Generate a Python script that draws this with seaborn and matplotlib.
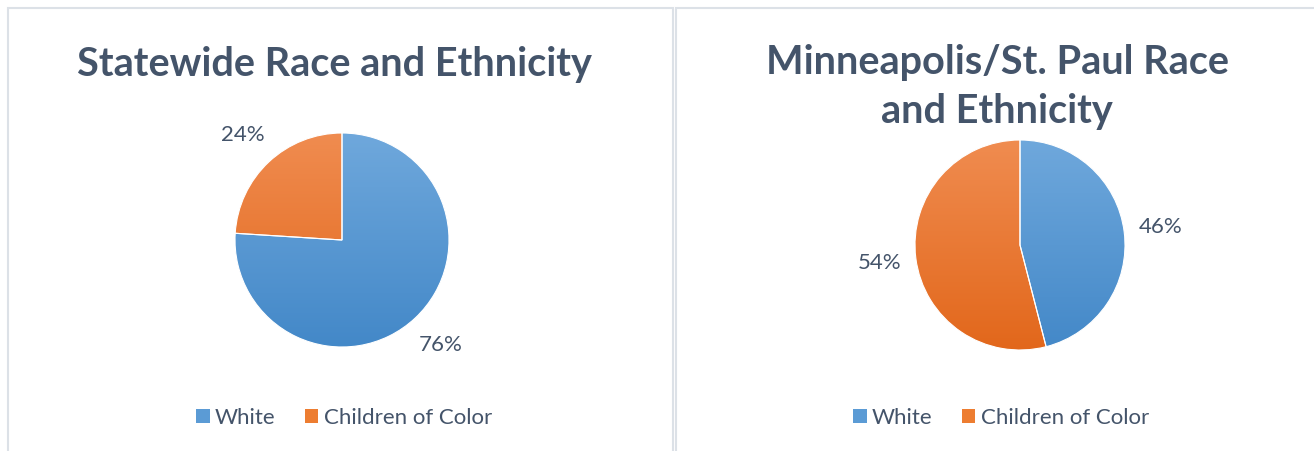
import numpy as np
import pandas as pd
import seaborn as sns
import matplotlib.pyplot as plt
from matplotlib.patches import Rectangle, Patch
from matplotlib.colors import LinearSegmentedColormap

# data
groups = ["White", "Children of Color"]
statewide = [76, 24]
metro = [46, 54]
titles = ["Statewide Race and Ethnicity", "Minneapolis/St. Paul Race\nand Ethnicity"]

sns.set_theme(style="white")
plt.rcParams['font.family'] = ['Lato', 'DejaVu Sans']
pal = ["#5B9BD5", "#ED7D31"]
# light top -> dark bottom, like the office gradient fill
grads = [("#6FA8DC", "#4388C8"), ("#F08C50", "#E2671B")]
txt = "#44546A"

W, H = 1314, 451
fig = plt.figure(figsize=(W/100, H/100), dpi=100)
fig.patch.set_facecolor("white")

def px(x0, y0, w, h):
    # pixel box (top-left origin) -> figure fraction
    return [x0/W, (H-y0-h)/H, w/W, h/H]

# panel borders
for x0, x1 in [(8, 673), (676, 1330)]:
    fig.patches.append(Rectangle((x0/W, -0.05), (x1-x0)/W, (H-8)/H + 0.05,
                                 transform=fig.transFigure, fill=False,
                                 edgecolor="#DCE1E7", linewidth=1.5))

ramp = np.linspace(0, 1, 256).reshape(-1, 1)

def draw(vals, cx, cy, r, title, tx, ty, legx):
    ax = fig.add_axes(px(cx-r, cy-r, 2*r, 2*r))
    wedges, _, _ = ax.pie(vals, colors=pal, startangle=90, counterclock=False,
                          autopct="%d%%", pctdistance=1.35,
                          wedgeprops=dict(edgecolor="white", linewidth=0.8),
                          textprops=dict(color=txt, fontsize=16))
    for w, (c0, c1) in zip(wedges, grads):
        cm = LinearSegmentedColormap.from_list("g", [c0, c1])
        im = ax.imshow(ramp, cmap=cm, extent=(-1, 1, -1, 1), origin="upper",
                       aspect="auto", zorder=2)
        im.set_clip_path(w)
        w.set_facecolor("none")
        w.set_zorder(3)
    ax.set_xlim(-1, 1)
    ax.set_ylim(-1, 1)
    ax.axis("off")
    fig.text(tx/W, 1-ty/H, title, ha="center", va="top", fontsize=28.5,
             fontweight="bold", color=txt, linespacing=1.4)
    handles = [Patch(facecolor=c, edgecolor="none") for c in pal]
    fig.legend(handles, groups, loc="center", bbox_to_anchor=(legx/W, 1-418/H),
               ncol=2, frameon=False, fontsize=16, labelcolor=txt,
               handlelength=0.62, handleheight=0.62, handletextpad=0.25,
               columnspacing=1.3)

draw(statewide, 342, 240, 107, titles[0], 334, 46, 344)
draw(metro, 1020, 245, 105, titles[1], 997, 44, 1001)

fig.savefig("out.png", dpi=100)
